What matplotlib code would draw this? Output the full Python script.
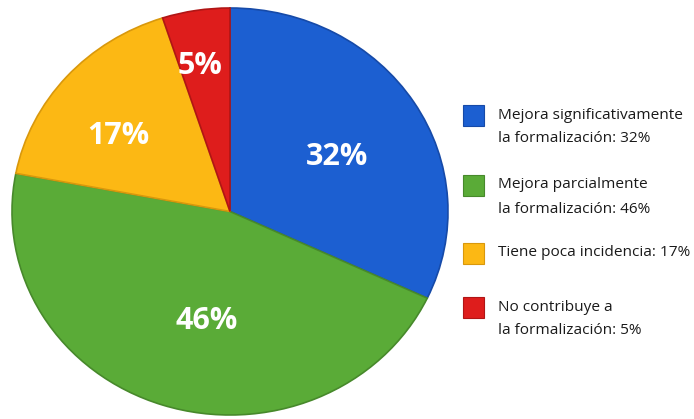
import numpy as np
import matplotlib.pyplot as plt
from matplotlib.patches import Rectangle

# data
categories = ["Mejora significativamente\nla formalización",
              "Mejora parcialmente\nla formalización",
              "Tiene poca incidencia",
              "No contribuye a\nla formalización"]
values = [32, 46, 17, 5]
colors = ["#1c5fd1", "#5aab37", "#fcb814", "#de1d1c"]
edges = ["#164aa8", "#47892b", "#d9980c", "#b01515"]

plt.rcParams['font.family'] = ['Open Sans', 'DejaVu Sans']

fig = plt.figure(figsize=(6.94, 4.19), dpi=100)
W, H = 694, 419

# pie is slightly wider than tall in the reference
ax = fig.add_axes([12 / W, 4 / H, 436 / W, 407 / H])
wedges, _ = ax.pie(values, colors=colors, startangle=90, counterclock=False,
                   wedgeprops=dict(linewidth=1.2, antialiased=True))
for w, ec in zip(wedges, edges):
    w.set_edgecolor(ec)
ax.set_aspect('auto')
ax.set_xlim(-1, 1)
ax.set_ylim(-1, 1)

# percentage labels inside each wedge (radius, angle nudge in degrees)
label_pos = [(0.56, -3.8), (0.55, 7.0), (0.63, 5.5), (0.73, 1.8)]
for w, v, (r, dt) in zip(wedges, values, label_pos):
    mid = np.deg2rad((w.theta1 + w.theta2) / 2 + dt)
    ax.text(r * np.cos(mid), r * np.sin(mid), f"{v}%", ha='center', va='center',
            color='white', fontsize=22, fontweight='bold')

# legend drawn by hand so the square sits on the first text line
entry_y = [115, 185, 253, 307]
line_h = 24
for lab, v, c, ec, y in zip(categories, values, colors, edges, entry_y):
    fig.patches.append(Rectangle((463 / W, 1 - (y + 11) / H), 21 / W, 21 / H,
                                 transform=fig.transFigure, facecolor=c,
                                 edgecolor=ec, linewidth=0.8))
    lines = f"{lab}: {v}%".split("\n")
    for i, ln in enumerate(lines):
        fig.text(498 / W, 1 - (y + i * line_h) / H, ln, ha='left', va='center',
                 fontsize=11.1, color='#1a1a1a')

fig.savefig("out.png", dpi=100, facecolor='white')
